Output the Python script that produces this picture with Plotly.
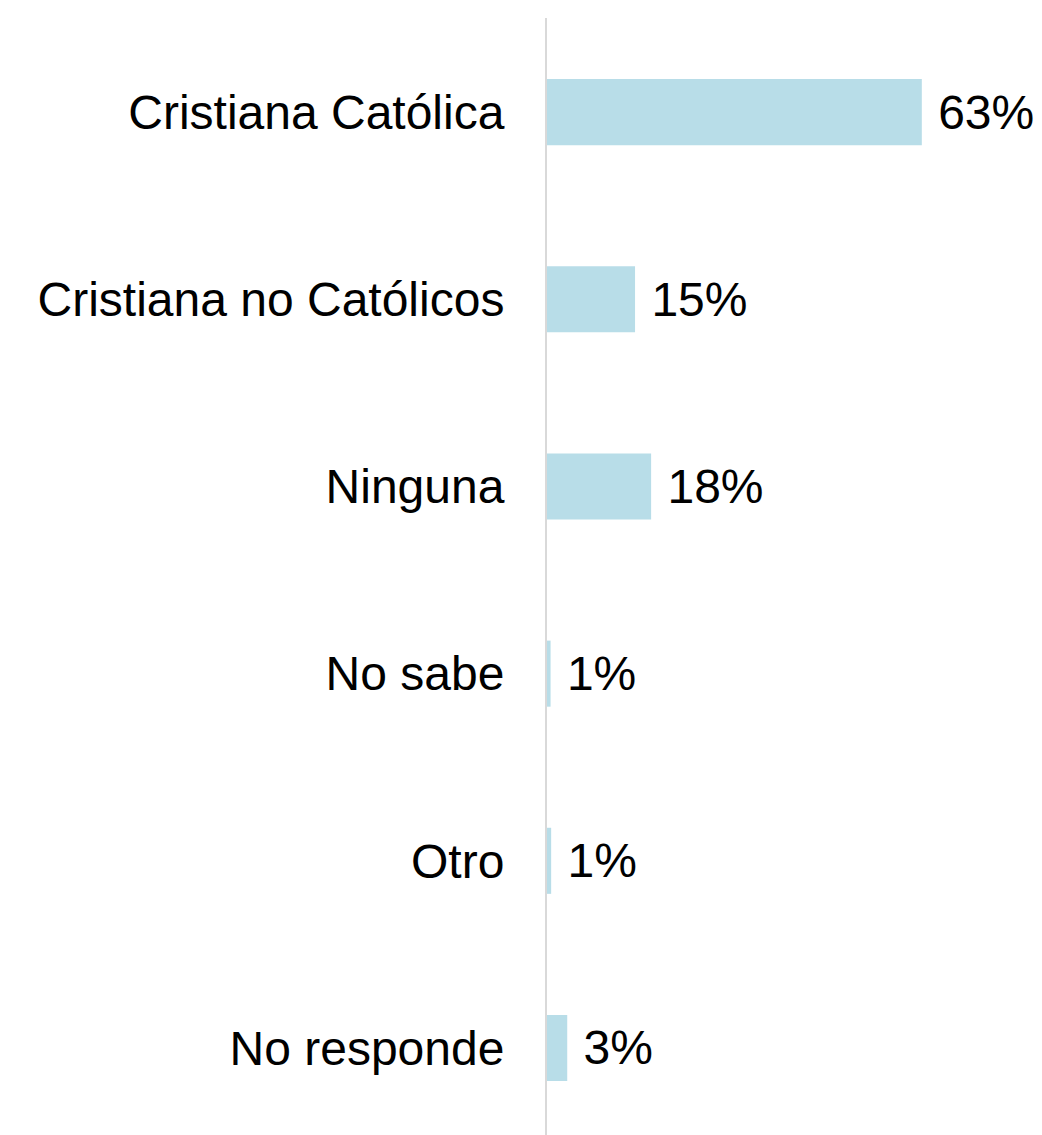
import plotly.graph_objects as go

categories = ["Cristiana Católica", "Cristiana no Católicos", "Ninguna", "No sabe", "Otro", "No responde"]
values = [63.0, 14.8, 17.5, 0.6, 0.7, 3.4]
value_labels = ["63%", "15%", "18%", "1%", "1%", "3%"]

fig = go.Figure(go.Bar(
    y=categories,
    x=values,
    orientation="h",
    marker=dict(color="#b8dde8", line=dict(width=0)),
    width=0.353,
    text=[" " + t for t in value_labels],
    textposition="outside",
    cliponaxis=False,
    textfont=dict(family="Liberation Sans, Arial, sans-serif", size=48, color="#000000"),
    hoverinfo="skip",
))

fig.update_layout(
    width=1034,
    height=1127,
    margin=dict(l=539, r=0, t=10, b=0),
    paper_bgcolor="white",
    plot_bgcolor="white",
    showlegend=False,
    font=dict(family="Liberation Sans, Arial, sans-serif", size=48, color="#000000"),
    xaxis=dict(range=[0, 83.2], visible=False, fixedrange=True),
    yaxis=dict(
        categoryorder="array",
        categoryarray=categories,
        range=[5.465, -0.503],
        showline=True,
        linecolor="#d9d9d9",
        linewidth=2,
        showgrid=False,
        zeroline=False,
        ticks="",
        ticklabelstandoff=31,
        tickfont=dict(family="Liberation Sans, Arial, sans-serif", size=48, color="#000000"),
    ),
)

fig.write_html("out.html")
